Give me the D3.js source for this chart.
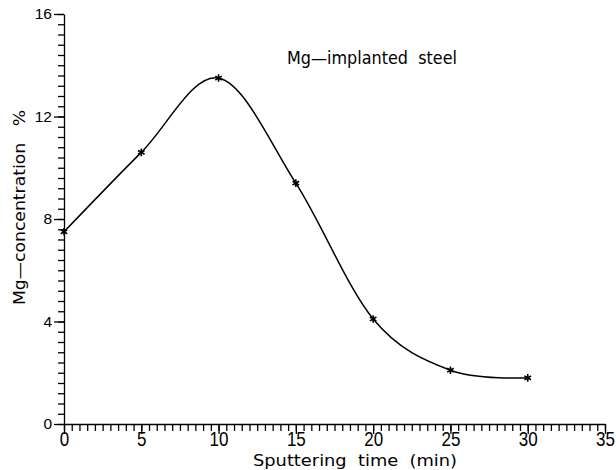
<!DOCTYPE html>
<html>
<head>
<meta charset="utf-8">
<script src="https://cdn.jsdelivr.net/npm/d3@7"></script>
<style>
  body { margin: 0; background: #fff; }
  svg { display: block; font-family: "DejaVu Sans", "Liberation Sans", sans-serif; }
</style>
</head>
<body>
<svg id="chart"></svg>
<script>
// sputtering time (min) and Mg concentration (%)
const times = [0, 5, 10, 15, 20, 25, 30]
const concentration = [7.5, 10.6, 13.5, 9.4, 4.1, 2.1, 1.8]

const xTicks = [0, 5, 10, 15, 20, 25, 30, 35]
const yTicks = [0, 4, 8, 12, 16]

const width = 616
const height = 470

const svg = d3.select('#chart')
    .attr('width', width)
    .attr('height', height)

const x = d3.scaleLinear()
    .domain([0, 35])
    .range([64, 605])

const y = d3.scaleLinear()
    .domain([0, 16])
    .range([424, 14])

// minor ticks first, major axis on top
svg.append('g')
    .attr('transform', 'translate(64,0)')
    .call(d3.axisLeft(y).tickValues(d3.range(0, 16.01, 0.4)).tickSize(6).tickFormat(''))
    .call(g => g.select('.domain').remove())

svg.append('g')
    .attr('transform', 'translate(0,424)')
    .call(d3.axisBottom(x).tickValues(d3.range(0, 35.01, 0.5)).tickSize(7).tickFormat(''))
    .call(g => g.select('.domain').remove())

const yAxis = svg.append('g')
    .attr('transform', 'translate(64,0)')
    .call(d3.axisLeft(y).tickValues(yTicks).tickSize(10).tickSizeOuter(0).tickPadding(2))
yAxis.selectAll('text')
    .style('font-size', '15.5px')

const xAxis = svg.append('g')
    .attr('transform', 'translate(0,424)')
    .call(d3.axisBottom(x).tickValues(xTicks).tickSize(10).tickSizeOuter(0))
xAxis.selectAll('text')
    .attr('y', null)
    .attr('dy', null)
    .attr('transform', 'translate(0,22) scale(1,1.2)')
    .style('font-size', '17px')

svg.selectAll('.domain, .tick line')
    .attr('stroke', '#000')
    .attr('stroke-width', 1.3)
svg.selectAll('.tick text')
    .attr('fill', '#000')
    .attr('font-family', null)

// fitted curve
const line = d3.line()
    .x((d, i) => x(times[i]))
    .y(d => y(d))
    .curve(d3.curveCardinal.tension(0))

svg.append('path')
    .datum(concentration)
    .attr('fill', 'none')
    .attr('stroke', '#000')
    .attr('stroke-width', 1.5)
    .attr('d', line)

// asterisk markers
const star = d3.symbolAsterisk
    ? d3.symbol(d3.symbolAsterisk, 40)()
    : 'M0,-4L0,4M-3.5,-2L3.5,2M-3.5,2L3.5,-2'

svg.selectAll('.mark')
    .data(concentration)
    .enter()
    .append('path')
    .attr('class', 'mark')
    .attr('d', star)
    .attr('transform', (d, i) => 'translate(' + x(times[i]) + ',' + y(d) + ')')
    .attr('fill', 'none')
    .attr('stroke', '#000')
    .attr('stroke-width', 1.6)

// titles
svg.append('text')
    .attr('x', 287)
    .attr('y', 64)
    .attr('textLength', 170)
    .attr('lengthAdjust', 'spacingAndGlyphs')
    .style('white-space', 'pre')
    .style('font-size', '18px')
    .text('Mg—implanted  steel')

svg.append('text')
    .attr('x', 253)
    .attr('y', 466)
    .attr('textLength', 204)
    .attr('lengthAdjust', 'spacingAndGlyphs')
    .style('white-space', 'pre')
    .style('font-size', '16px')
    .text('Sputtering  time  (min)')

svg.append('text')
    .attr('transform', 'translate(25,305) rotate(-90)')
    .attr('textLength', 195)
    .attr('lengthAdjust', 'spacingAndGlyphs')
    .style('white-space', 'pre')
    .style('font-size', '16px')
    .text('Mg—concentration   %')
</script>
</body>
</html>
